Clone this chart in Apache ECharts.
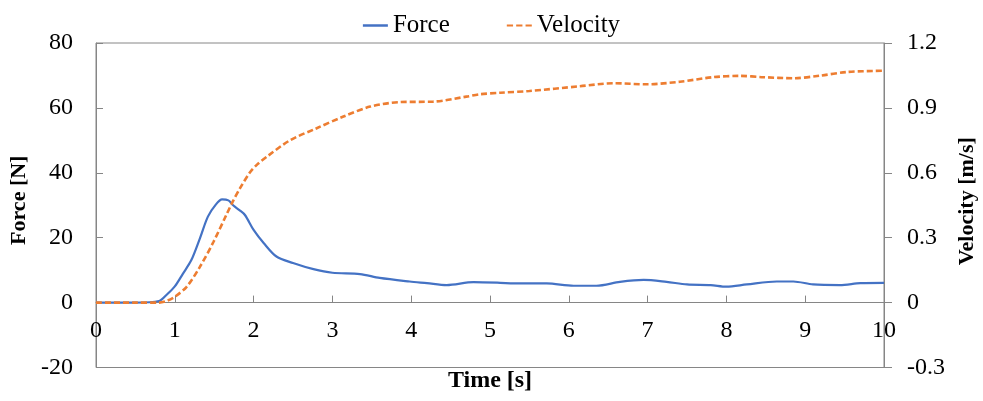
<!DOCTYPE html>
<html><head><meta charset="utf-8">
<script src="https://cdn.jsdelivr.net/npm/echarts@6/dist/echarts.min.js"></script>
<style>html,body{margin:0;padding:0;background:#fff}#c{width:983px;height:401px}</style>
</head><body><div id="c"></div>
<script>
const forceTime = [0, 0.5, 0.8, 0.9, 1.0, 1.1, 1.21, 1.32, 1.42, 1.52, 1.6, 1.68, 1.74, 1.82, 1.89, 2.0, 2.13, 2.29, 2.5, 2.76, 3.0, 3.35, 3.6, 3.98, 4.2, 4.45, 4.79, 5.13, 5.3, 5.72, 6.06, 6.35, 6.65, 6.95, 7.24, 7.5, 7.8, 8.0, 8.26, 8.64, 8.85, 9.1, 9.44, 9.7, 10];
const forceValues = [0, 0, 0.5, 2.5, 5, 8.8, 13.1, 19.9, 26.5, 30.2, 31.8, 31.5, 30, 28.5, 27, 22.4, 18.3, 14.2, 12.2, 10.3, 9.2, 8.8, 7.6, 6.5, 6.0, 5.4, 6.3, 6.1, 5.9, 5.9, 5.2, 5.2, 6.4, 7.0, 6.4, 5.6, 5.4, 4.9, 5.6, 6.5, 6.5, 5.6, 5.4, 6.0, 6.1];
const velTime = [0, 0.5, 0.8, 0.9, 1.0, 1.15, 1.32, 1.49, 1.66, 1.74, 1.83, 1.95, 2.05, 2.17, 2.46, 2.8, 3.14, 3.48, 3.86, 4.28, 4.7, 4.87, 5.13, 5.5, 6.14, 6.57, 6.99, 7.41, 7.83, 8.17, 8.47, 8.85, 9.19, 9.53, 10];
const velValues = [0, 0, 0, 0.008, 0.027, 0.073, 0.166, 0.28, 0.41, 0.47, 0.53, 0.6, 0.64, 0.675, 0.75, 0.806, 0.86, 0.906, 0.927, 0.929, 0.952, 0.963, 0.97, 0.978, 1.0, 1.014, 1.009, 1.021, 1.042, 1.048, 1.042, 1.037, 1.049, 1.066, 1.072];
const timeTicks = {min: 0, max: 10, interval: 1};
const forceTicks = {min: -20, max: 80, interval: 20};
const velTicks = {min: -0.3, max: 1.2, interval: 0.3};

const FONT = '"Liberation Serif", "Times New Roman", serif';
const AX = '#868686';
const GRID = {left: 96, right: 99, top: 43, bottom: 33.5};
const plotH = 401 - GRID.top - GRID.bottom;
// x axis drawn on the Force = 0 line
const zeroOffset = -plotH * (0 - forceTicks.min) / (forceTicks.max - forceTicks.min);

const chart = echarts.init(document.getElementById('c'));
chart.setOption({
  animation: false,
  textStyle: {fontFamily: FONT},
  grid: Object.assign({show: true, borderColor: AX, borderWidth: 1, containLabel: false, outerBoundsMode: 'none'}, GRID),
  legend: {
    show: true, top: 8, left: 'center', orient: 'horizontal', itemWidth: 25, itemHeight: 2.5, itemGap: 57,
    textStyle: {fontFamily: FONT, fontSize: 25, color: '#000'},
    itemStyle: {borderWidth: 0},
    data: [
      {name: 'Force', icon: 'rect'},
      {name: 'Velocity', icon: 'path://M0,0h6v2h-6zM9,0h6v2h-6zM18,0h6v2h-6z'}
    ]
  },
  xAxis: {
    type: 'value', position: 'bottom', offset: zeroOffset,
    min: timeTicks.min, max: timeTicks.max, interval: timeTicks.interval,
    name: 'Time [s]', nameLocation: 'middle', nameGap: 66,
    nameTextStyle: {fontFamily: FONT, fontSize: 24, fontWeight: 'bold', color: '#000'},
    axisLine: {onZero: false, lineStyle: {color: AX, width: 1}},
    axisTick: {inside: true, length: 7, lineStyle: {color: AX}},
    axisLabel: {margin: 16, fontSize: 24, color: '#000', fontFamily: FONT},
    splitLine: {show: false}
  },
  yAxis: [{
    type: 'value', min: forceTicks.min, max: forceTicks.max, interval: forceTicks.interval,
    name: 'Force [N]', nameLocation: 'middle', nameGap: 57,
    nameTextStyle: {fontFamily: FONT, fontSize: 22, fontWeight: 'bold', color: '#000', padding: [0, 0, 0, 10]},
    axisLine: {show: true, onZero: false, lineStyle: {color: AX}},
    axisTick: {show: true, inside: true, length: 7, lineStyle: {color: AX}},
    axisLabel: {margin: 23, fontSize: 24, color: '#000', fontFamily: FONT},
    splitLine: {show: false}
  }, {
    type: 'value', position: 'right', min: velTicks.min, max: velTicks.max, interval: velTicks.interval,
    name: 'Velocity [m/s]', nameLocation: 'middle', nameGap: 71,
    nameTextStyle: {fontFamily: FONT, fontSize: 22, fontWeight: 'bold', color: '#000', padding: [0, 0, 0, 8]},
    axisLine: {show: true, onZero: false, lineStyle: {color: AX}},
    axisTick: {show: true, inside: false, length: 8, lineStyle: {color: AX}},
    axisLabel: {margin: 23, fontSize: 24, color: '#000', fontFamily: FONT,
      formatter: v => Math.abs(v) < 1e-9 ? '0' : v.toFixed(1)},
    splitLine: {show: false}
  }],
  series: [{
    name: 'Force', type: 'line', yAxisIndex: 0, symbol: 'none', smooth: 0.3,
    lineStyle: {color: '#4472C4', width: 2.2}, itemStyle: {color: '#4472C4'},
    data: forceTime.map((t, i) => [t, forceValues[i]])
  }, {
    name: 'Velocity', type: 'line', yAxisIndex: 1, symbol: 'none', smooth: 0.3,
    lineStyle: {color: '#ED7D31', width: 2.6, type: [6, 3]}, itemStyle: {color: '#ED7D31'},
    data: velTime.map((t, i) => [t, velValues[i]])
  }]
});
</script></body></html>
